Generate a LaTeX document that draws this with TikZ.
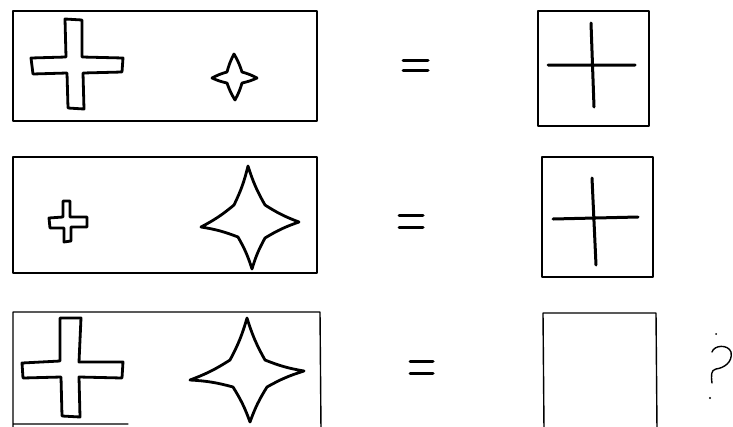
\documentclass[tikz,border=0pt]{standalone}
\begin{document}
\begin{tikzpicture}[x=1pt,y=-1pt,line join=round,line cap=round,
  frame/.style={draw=black,line width=1.4pt},
  figline/.style={draw=black,line width=2.8pt},
  stroke/.style={draw=black,line width=3pt},
  qmark/.style={draw=black,line width=1.4pt}]
\useasboundingbox (0,0) rectangle (733,426);
% row 1
\draw[frame] (13,11) rectangle (317,121);
\draw[figline] (65,19) -- (82,20) -- (82,57) -- (123,58) -- (122,72) -- (83,73) -- (84,109) -- (68,108) -- (67,73) -- (33,74) -- (31,58) -- (66,57) -- cycle;
\draw[figline] (234,54) to[bend left=6] (242,72) to[bend left=6] (257,78) to[bend left=6] (242,83) to[bend left=6] (235,100) to[bend left=6] (227,83) to[bend left=6] (212,78) to[bend left=6] (227,72) to[bend left=6] cycle;
\draw[stroke] (403,60) -- (428,60) (403,70) -- (428,70);
\draw[frame] (538,11) rectangle (649,126);
\draw[stroke] (548,65) -- (635,65) (591,23) -- (594,107);
% row 2
\draw[frame] (13,157) rectangle (317,273);
\draw[figline] (63,201) -- (70,201) -- (70,217) -- (87,217) -- (87,227) -- (71,227) -- (71,241) -- (64,242) -- (64,228) -- (50,228) -- (49,218) -- (63,217) -- cycle;
\draw[figline] (248,166) to[bend left=6] (234,205) to[bend left=6] (201,227) to[bend left=6] (238,237) to[bend left=6] (252,269) to[bend left=6] (265,238) to[bend left=6] (299,222) to[bend left=6] (265,205) to[bend left=6] cycle;
\draw[stroke] (399,215) -- (423,215) (399,227) -- (423,227);
\draw[frame] (542,157) rectangle (653,277);
\draw[stroke] (553,219) -- (638,217) (592,178) -- (596,265);
% row 3
\draw[frame] (13,312) -- (320,312) -- (321,430) (13,312) -- (13,430) (13,424) -- (128,424);
\draw[figline] (60,318) -- (81,318) -- (79,362) -- (123,362) -- (122,378) -- (79,377) -- (80,417) -- (62,416) -- (61,377) -- (23,378) -- (22,363) -- (60,361) -- cycle;
\draw[figline] (247,318) to[bend left=6] (230,360) to[bend left=6] (190,380) to[bend left=6] (233,387) to[bend left=6] (250,422) to[bend left=6] (267,387) to[bend left=6] (304,371) to[bend left=6] (265,360) to[bend left=6] cycle;
\draw[stroke] (410,361) -- (433,361) (410,373) -- (433,373);
\draw[frame] (543,313) -- (656,313) -- (657,430) (543,313) -- (544,430);
% question mark
\draw[qmark] (712,352) .. controls (714,345) and (728,344) .. (731,352) .. controls (733,362) and (724,368) .. (716,369) .. controls (711,370) and (711,375) .. (712,383);
\fill (716,334) circle (1);
\fill (710,398) circle (1.2);
\end{tikzpicture}
\end{document}
